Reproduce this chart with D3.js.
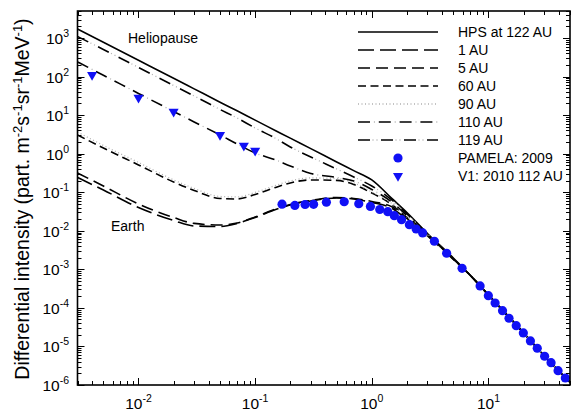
<!DOCTYPE html>
<html>
<head>
<meta charset="utf-8">
<script src="https://cdn.jsdelivr.net/npm/d3@7"></script>
<style>
  body { margin: 0; background: #fff; }
  svg { display: block; font-family: Arial, "Liberation Sans", sans-serif; }
</style>
</head>
<body>
<div id="chart"></div>
<script>
// Model spectra (GeV, part. m^-2 s^-1 sr^-1 MeV^-1)
const energy = [0.003, 0.005, 0.01, 0.02, 0.03, 0.05, 0.07, 0.1, 0.15, 0.2, 0.3, 0.5, 0.7, 1, 1.5, 2, 3, 5, 7, 10, 20, 30, 50];

const hps122 = [1710, 773, 264, 90.1, 47.9, 21.6, 12.9, 7.38, 3.94, 2.52, 1.35, 0.608, 0.362, 0.208, 0.0668, 0.0298, 0.00851, 0.00197, 6.93e-4, 2.16e-4, 2.24e-5, 5.73e-6, 1.18e-6];
const au1 = [0.241, 0.114, 0.0402, 0.0185, 0.0133, 0.0129, 0.0155, 0.0221, 0.0357, 0.0467, 0.0593, 0.0709, 0.0668, 0.0542, 0.0379, 0.0196, 0.00733, 0.00180, 6.93e-4, 2.16e-4, 2.24e-5, 5.73e-6, 1.18e-6];
const au5 = [0.315, 0.145, 0.0496, 0.0221, 0.0155, 0.0141, 0.0159, 0.0228, 0.0367, 0.0481, 0.0611, 0.0731, 0.0688, 0.0575, 0.0414, 0.0208, 0.00755, 0.00186, 6.93e-4, 2.16e-4, 2.24e-5, 5.73e-6, 1.18e-6];
const au60 = [3.05, 1.40, 0.509, 0.184, 0.111, 0.0688, 0.0668, 0.0874, 0.133, 0.174, 0.208, 0.202, 0.159, 0.0956, 0.0467, 0.0221, 0.00778, 0.00186, 6.93e-4, 2.16e-4, 2.24e-5, 5.73e-6, 1.18e-6];
const au90 = [3.65, 1.63, 0.590, 0.208, 0.125, 0.0776, 0.0752, 0.0985, 0.150, 0.196, 0.234, 0.227, 0.174, 0.101, 0.0496, 0.0228, 0.00778, 0.00186, 6.93e-4, 2.16e-4, 2.24e-5, 5.73e-6, 1.18e-6];
const au110 = [239, 108, 36.4, 12.4, 6.63, 3.05, 1.78, 1.04, 0.686, 0.479, 0.306, 0.241, 0.196, 0.118, 0.0542, 0.0249, 0.00802, 0.00186, 6.93e-4, 2.16e-4, 2.24e-5, 5.73e-6, 1.18e-6];
const au119 = [1090, 503, 172, 58.6, 31.3, 14.0, 8.42, 4.63, 2.48, 1.49, 0.820, 0.400, 0.248, 0.145, 0.0611, 0.0273, 0.00826, 0.00186, 6.93e-4, 2.16e-4, 2.24e-5, 5.73e-6, 1.18e-6];

// Observations
const pamelaE = [0.170, 0.219, 0.268, 0.317, 0.408, 0.580, 0.773, 0.973, 1.17, 1.37, 1.56, 1.80, 2.10, 2.40, 2.73, 3.44, 4.38, 5.94, 8.48, 9.98, 11.4, 13.2, 15.0, 17.3, 19.9, 22.9, 26.2, 30.3, 34.4, 39.5, 45.6];
const pamelaJ = [0.049, 0.0453, 0.048, 0.0486, 0.0552, 0.0565, 0.0501, 0.0427, 0.0356, 0.0313, 0.0246, 0.0194, 0.0144, 0.0111, 0.00877, 0.00535, 0.00261, 0.00106, 3.70e-4, 2.07e-4, 1.34e-4, 8.48e-5, 5.38e-5, 3.46e-5, 2.24e-5, 1.39e-5, 8.97e-6, 5.56e-6, 3.79e-6, 2.35e-6, 1.52e-6];
const v1E = [0.004, 0.01, 0.02, 0.05, 0.08, 0.1];
const v1J = [110, 28.3, 12.3, 3.05, 1.61, 1.19];

const xExponents = [-2, -1, 0, 1];
const yExponents = [-6, -5, -4, -3, -2, -1, 0, 1, 2, 3];

const seriesNames = ["HPS at 122 AU", "1 AU", "5 AU", "60 AU", "90 AU", "110 AU", "119 AU"];
const seriesValues = [hps122, au1, au5, au60, au90, au110, au119];
const markerNames = ["PAMELA: 2009", "V1: 2010 112 AU"];

// styles: black dash pattern + optional faint grey dots sitting in the gaps
const lineStyle = {
  "HPS at 122 AU": { dash: null },
  "1 AU": { dash: "16,6" },
  "5 AU": { dash: "12,6" },
  "60 AU": { dash: "8,4.5" },
  "90 AU": { dash: null, dots: "1,2.5", dotOffset: 0, only: true },
  "110 AU": { dash: "12,8.8", dots: "1,19.8", dotOffset: -15.9 },
  "119 AU": { dash: "12,11", dots: "1,3,1,18", dotOffset: -14.5 }
};
const blue = "#1010f5";
const dotGrey = "#b0b0b0";

const W = 571, H = 413;
const plot = { left: 77.5, right: 570, top: 11, bottom: 385 };

const svg = d3.select("#chart")
  .append("svg")
  .attr("width", W)
  .attr("height", H);

const x = d3.scaleLog().domain([0.003, 50]).range([plot.left, plot.right]);
const y = d3.scaleLog().domain([1e-6, 5000]).range([plot.bottom, plot.top]);

svg.append("clipPath").attr("id", "clip")
  .append("rect")
  .attr("x", plot.left).attr("y", plot.top)
  .attr("width", plot.right - plot.left).attr("height", plot.bottom - plot.top);

// draws one styled line (curve path or legend sample)
function styledStroke(g, name, attrs) {
  const st = lineStyle[name];
  if (st.dots) {
    const p = g.append(attrs.tag)
      .attr("fill", "none")
      .attr("stroke", dotGrey)
      .attr("stroke-width", 1.3)
      .attr("stroke-dasharray", st.dots)
      .attr("stroke-dashoffset", st.dotOffset);
    attrs.set(p);
  }
  if (!st.only) {
    const p = g.append(attrs.tag)
      .attr("fill", "none")
      .attr("stroke", "#000")
      .attr("stroke-width", 1.6)
      .attr("stroke-dasharray", st.dash);
    attrs.set(p);
  }
}

// curves
const line = d3.line()
  .x(d => x(d[0]))
  .y(d => y(d[1]))
  .curve(d3.curveMonotoneX);

const curves = svg.append("g").attr("clip-path", "url(#clip)");
seriesNames.forEach((name, i) => {
  const pts = energy.map((e, k) => [e, seriesValues[i][k]]);
  styledStroke(curves, name, { tag: "path", set: p => p.attr("d", line(pts)) });
});

// markers
const tri = d3.symbol().type(d3.symbolTriangle).size(44);
const marks = svg.append("g").attr("clip-path", "url(#clip)");
marks.selectAll("circle")
  .data(pamelaE.map((e, k) => [e, pamelaJ[k]]))
  .join("circle")
  .attr("cx", d => x(d[0]))
  .attr("cy", d => y(d[1]))
  .attr("r", 4.6)
  .attr("fill", blue);
marks.selectAll("path.v1")
  .data(v1E.map((e, k) => [e, v1J[k]]))
  .join("path")
  .attr("class", "v1")
  .attr("d", tri)
  .attr("transform", d => `translate(${x(d[0])},${y(d[1])}) rotate(180)`)
  .attr("fill", blue);

// ticks on all four sides, pointing inward
function tickValues(scale) {
  const [a, b] = scale.domain();
  const out = [];
  for (let k = Math.floor(Math.log10(a)); k <= Math.ceil(Math.log10(b)); k++) {
    for (let m = 1; m <= 9; m++) {
      const v = m * Math.pow(10, k);
      if (v >= a * 0.999 && v <= b * 1.001) out.push({ v, major: m === 1 });
    }
  }
  return out;
}
const ticks = svg.append("g").attr("stroke", "#000").attr("stroke-width", 1);
const majorLen = 7, minorLen = 4;
tickValues(x).forEach(t => {
  const px = Math.round(x(t.v)) + 0.5;
  const len = t.major ? majorLen : minorLen;
  ticks.append("line").attr("x1", px).attr("x2", px).attr("y1", plot.bottom).attr("y2", plot.bottom - len);
  ticks.append("line").attr("x1", px).attr("x2", px).attr("y1", plot.top).attr("y2", plot.top + len);
});
tickValues(y).forEach(t => {
  const py = Math.round(y(t.v)) + 0.5;
  const len = t.major ? majorLen : minorLen;
  ticks.append("line").attr("y1", py).attr("y2", py).attr("x1", plot.left).attr("x2", plot.left + len);
  ticks.append("line").attr("y1", py).attr("y2", py).attr("x1", plot.right).attr("x2", plot.right - len);
});

svg.append("rect")
  .attr("x", plot.left).attr("y", plot.top)
  .attr("width", plot.right - plot.left).attr("height", plot.bottom - plot.top)
  .attr("fill", "none").attr("stroke", "#000").attr("stroke-width", 1.6);

// tick labels
xExponents.forEach(p => {
  const t = svg.append("text")
    .attr("x", x(Math.pow(10, p)))
    .attr("y", 409)
    .attr("text-anchor", "middle")
    .attr("font-size", 15.5)
    .attr("fill", "#000");
  t.append("tspan").text("10");
  t.append("tspan").attr("dy", -7).attr("font-size", 10.5).text(p);
});
yExponents.forEach(p => {
  const t = svg.append("text")
    .attr("x", 69)
    .attr("y", y(Math.pow(10, p)) + 6)
    .attr("text-anchor", "end")
    .attr("font-size", 15.5)
    .attr("fill", "#000");
  t.append("tspan").text("10");
  t.append("tspan").attr("dy", -7).attr("font-size", 10.5).text(p);
});

// y axis title
const title = svg.append("text")
  .attr("transform", "translate(29,199) rotate(-90)")
  .attr("text-anchor", "middle")
  .attr("font-size", 19.5)
  .attr("fill", "#000");
title.append("tspan").text("Differential intensity (part. m");
[["-2", "s"], ["-1", "sr"], ["-1", "MeV"], ["-1", ")"]].forEach(([sup, rest]) => {
  title.append("tspan").attr("dy", -7.5).attr("font-size", 13).text(sup);
  title.append("tspan").attr("dy", 7.5).text(rest);
});

// annotations
svg.append("text").attr("x", 128).attr("y", 43).attr("font-size", 14).text("Heliopause");
svg.append("text").attr("x", 111).attr("y", 231).attr("font-size", 14).text("Earth");

// legend
const legend = svg.append("g");
const rowY = i => 32 + i * 18;
seriesNames.forEach((name, i) => {
  styledStroke(legend, name, {
    tag: "line",
    set: l => l.attr("x1", 358).attr("x2", 438).attr("y1", rowY(i)).attr("y2", rowY(i))
  });
  legend.append("text").attr("x", 458).attr("y", rowY(i) + 5).attr("font-size", 14).text(name);
});
legend.append("circle").attr("cx", 398).attr("cy", rowY(7)).attr("r", 4.6).attr("fill", blue);
legend.append("text").attr("x", 458).attr("y", rowY(7) + 5).attr("font-size", 14).text(markerNames[0]);
legend.append("path").attr("d", tri).attr("transform", `translate(398,${rowY(8)}) rotate(180)`).attr("fill", blue);
legend.append("text").attr("x", 458).attr("y", rowY(8) + 5).attr("font-size", 14).text(markerNames[1]);
</script>
</body>
</html>
